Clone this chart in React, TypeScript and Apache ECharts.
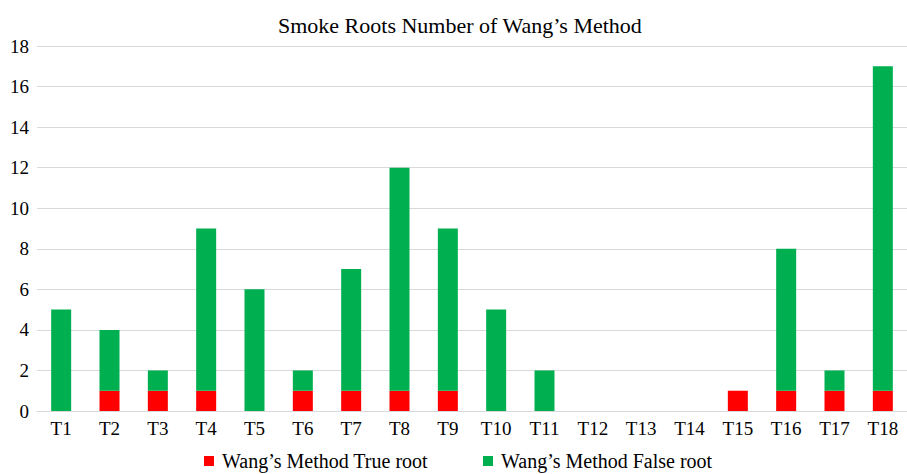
import React, { useEffect, useRef } from "react";
import * as echarts from "echarts";

const categories = ["T1","T2","T3","T4","T5","T6","T7","T8","T9","T10","T11","T12","T13","T14","T15","T16","T17","T18"];
const trueRoot = [0,1,1,1,0,1,1,1,1,0,0,0,0,0,1,1,1,1];
const falseRoot = [5,3,1,8,6,1,6,11,8,5,2,0,0,0,0,7,1,16];
const titleText = "Smoke Roots Number of Wang\u2019s Method";
const seriesNames = ["Wang\u2019s Method True root", "Wang\u2019s Method False root"];

export default function App() {
  const ref = useRef<HTMLDivElement>(null);
  useEffect(() => {
    if (!ref.current) return;
    const chart = echarts.init(ref.current, null, { renderer: "svg" });
    const font = "'Liberation Serif', 'Times New Roman', serif";
    chart.setOption({
      animation: false,
      backgroundColor: "#ffffff",
      title: {
        text: titleText,
        left: 273,
        top: 9,
        textStyle: { fontFamily: font, fontSize: 22, fontWeight: "normal", color: "#000" },
      },
      legend: {
        bottom: -2,
        left: 199,
        itemWidth: 10,
        itemHeight: 10,
        itemGap: 55,
        icon: "rect",
        textStyle: { fontFamily: font, fontSize: 20, color: "#000", padding: [0, 0, 0, 3] },
        data: seriesNames,
      },
      grid: { left: 37, top: 46, width: 880, height: 365, containLabel: false },
      xAxis: {
        type: "category",
        data: categories,
        axisTick: { show: false },
        axisLine: { lineStyle: { color: "#d9d9d9" } },
        axisLabel: { fontFamily: font, fontSize: 19, color: "#000", margin: 8 },
      },
      yAxis: {
        type: "value",
        min: 0,
        max: 18,
        interval: 2,
        axisLine: { show: false },
        axisTick: { show: false },
        splitLine: { lineStyle: { color: "#d9d9d9" } },
        axisLabel: { fontFamily: font, fontSize: 19, color: "#000", margin: 8 },
      },
      series: [
        { name: seriesNames[0], type: "bar", stack: "a", data: trueRoot, barWidth: 20, itemStyle: { color: "#FF0000" } },
        { name: seriesNames[1], type: "bar", stack: "a", data: falseRoot, barWidth: 20, itemStyle: { color: "#00B050" } },
      ],
    });
    return () => chart.dispose();
  }, []);
  return <div ref={ref} style={{ position: "fixed", left: 0, top: 0, width: 907, height: 474 }} />;
}
